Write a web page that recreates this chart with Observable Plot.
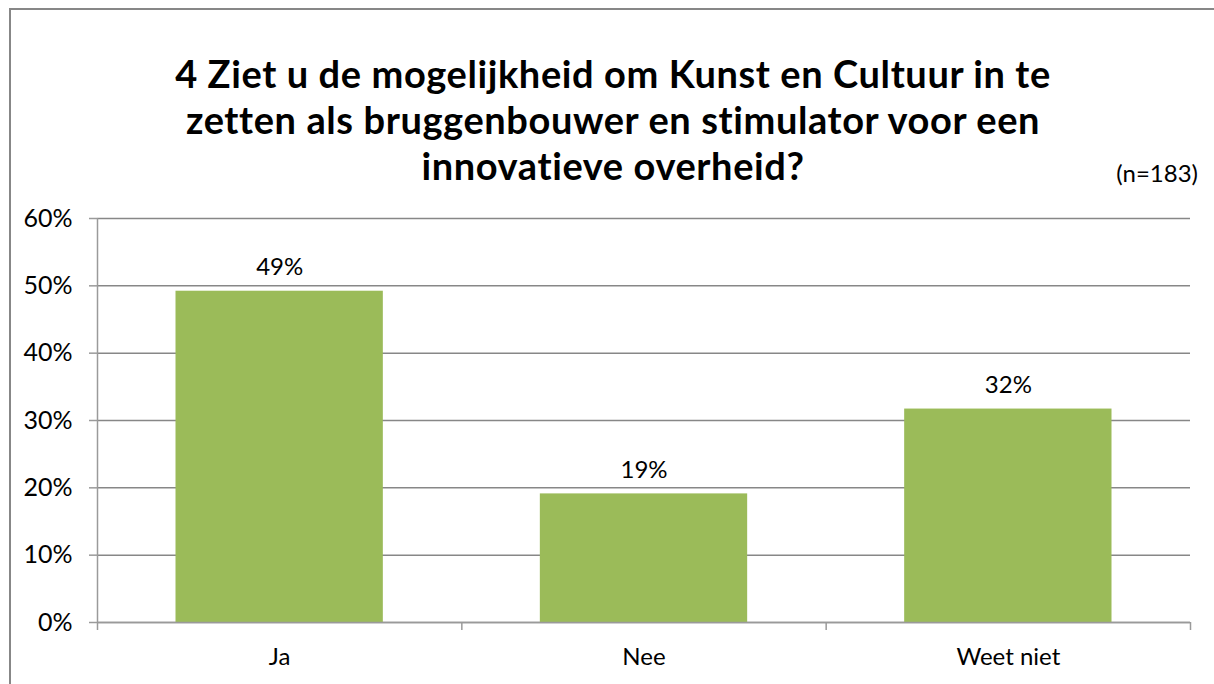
<!DOCTYPE html>
<html><head><meta charset="utf-8">
<script src="https://cdn.jsdelivr.net/npm/d3@7"></script>
<script src="https://cdn.jsdelivr.net/npm/@observablehq/plot@0.6"></script>
<style>
body{margin:0;background:#fff;}
#wrap{position:relative;width:1214px;height:684px;overflow:hidden;font-family:Lato,sans-serif;}
#frame{position:absolute;left:9px;top:8px;width:1220px;height:700px;border:2px solid #878787;box-sizing:border-box;pointer-events:none;}
#head{position:relative;height:200px;}
#title{position:absolute;left:0;width:1226px;top:50px;text-align:center;font-weight:bold;font-size:38px;letter-spacing:0.6px;color:#000;}
#title div{height:46px;line-height:46px;white-space:nowrap;}
#n{position:absolute;right:16px;top:158px;font-size:24px;color:#000;}
svg{display:block;}
</style>
</head>
<body>
<div id="wrap">
  <div id="frame"></div>
  <div id="head">
    <div id="title"><div>4 Ziet u de mogelijkheid om Kunst en Cultuur in te</div><div>zetten als bruggenbouwer en stimulator voor een</div><div>innovatieve overheid?</div></div>
    <div id="n">(n=183)</div>
  </div>
  <div id="chart"></div>
</div>
<script>
const categories = ["Ja", "Nee", "Weet niet"];
const values = [0.492, 0.191, 0.317];
const valueLabels = ["49%", "19%", "32%"];
const yTicks = [0, 0.1, 0.2, 0.3, 0.4, 0.5, 0.6];

const data = categories.map((c, i) => ({cat: c, i, v: values[i], label: valueLabels[i]}));
const boundaries = d3.range(categories.length + 1);
const axisColor = "#9a9a9a";

const chart = Plot.plot({
  width: 1214,
  height: 484,
  marginLeft: 97,
  marginRight: 24,
  marginTop: 18,
  marginBottom: 62,
  style: {fontFamily: "Lato, sans-serif", fontSize: "24px", color: "#000", background: "transparent"},
  x: {domain: [0, categories.length], axis: null},
  y: {domain: [0, 0.6], axis: null},
  marks: [
    Plot.gridY(yTicks, {stroke: "#878787", strokeOpacity: 1, strokeWidth: 1.5}),
    Plot.rectY(data, {x1: "i", x2: d => d.i + 1, y1: 0, y2: "v", fill: "#9BBB59", insetLeft: 78.5, insetRight: 78.5}),
    Plot.ruleY([0], {stroke: axisColor, strokeWidth: 1.5}),
    Plot.ruleX([0], {y1: 0, y2: 0.6, stroke: axisColor, strokeWidth: 1.5}),
    Plot.axisX({ticks: boundaries, tickSize: 8, tickFormat: () => "", stroke: axisColor, strokeWidth: 1.5, label: null}),
    Plot.axisY({ticks: yTicks, tickSize: 8, tickPadding: 17, tickFormat: d3.format(".0%"), stroke: axisColor, strokeWidth: 1.5, fill: "#000", fontSize: 25, label: null}),
    Plot.text(data, {x: d => d.i + 0.5, y: "v", text: "label", dy: -24, fontSize: 24, fill: "#000"}),
    Plot.text(data, {x: d => d.i + 0.5, y: 0, text: "cat", dy: 35, fontSize: 24, fill: "#000"})
  ]
});
document.getElementById("chart").appendChild(chart);
</script>
</body></html>
